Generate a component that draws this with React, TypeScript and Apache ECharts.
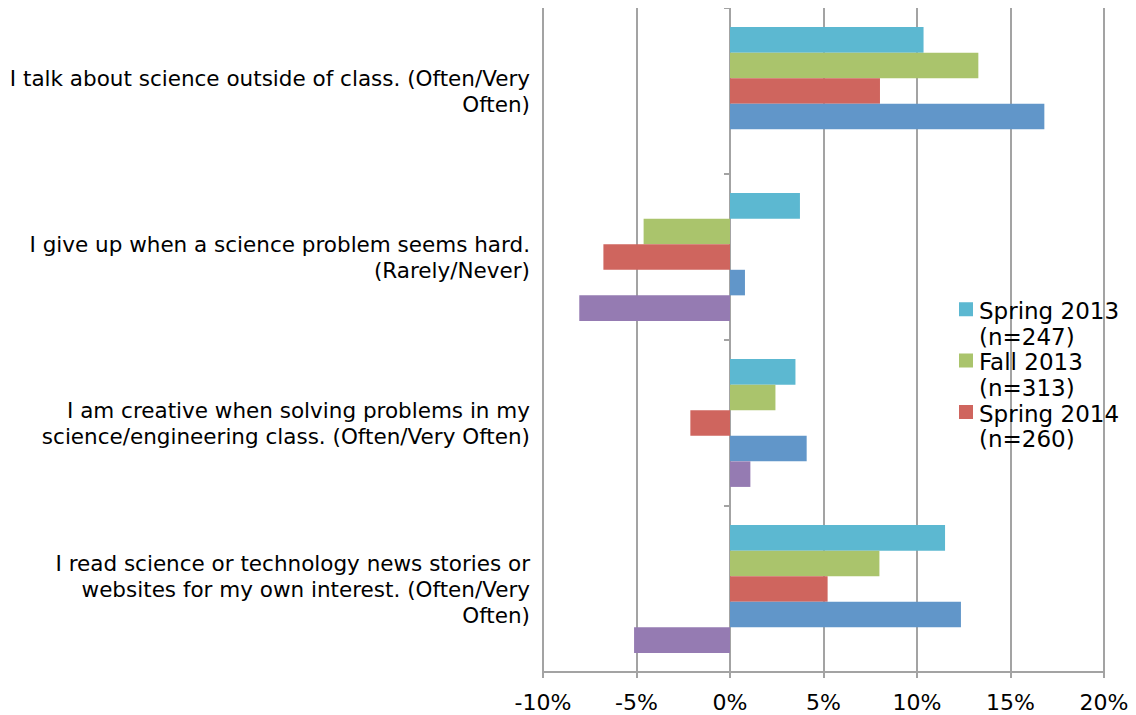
import React, { useEffect, useRef } from "react";
import * as echarts from "echarts";

const categories = [
  "I talk about science outside of class. (Often/Very\nOften)",
  "I give up when a science problem seems hard.\n(Rarely/Never)",
  "I am creative when solving problems in my\nscience/engineering class. (Often/Very Often)",
  "I read science or technology news stories or\nwebsites for my own interest. (Often/Very\nOften)",
];

const seriesNames = [
  "Spring 2013\n(n=247)",
  "Fall 2013\n(n=313)",
  "Spring 2014\n(n=260)",
  "Series 4",
  "Series 5",
];

const spring2013 = [10.35, 3.74, 3.5, 11.5];
const fall2013 = [13.28, -4.62, 2.43, 7.99];
const spring2014 = [8.02, -6.77, -2.12, 5.22];
const series4 = [16.81, 0.8, 4.1, 12.35];
const series5 = [0, -8.06, 1.09, -5.13];

const seriesValues = [spring2013, fall2013, spring2014, series4, series5];
const colors = ["#5cb8d1", "#aac46c", "#cf655e", "#6196c9", "#957bb2"];

const xMin = -10;
const xMax = 20;
const xInterval = 5;

const legendIcon =
  "path://M0,0L0.01,0M0,4L14,4L14,18L0,18ZM0,51L0.01,51";

export default function App() {
  const ref = useRef<HTMLDivElement>(null);

  useEffect(() => {
    if (!ref.current) return;
    const chart = echarts.init(ref.current, undefined, { renderer: "svg" });
    const font = "DejaVu Sans, Verdana, sans-serif";
    const gray = "#a3a3a3";
    chart.setOption({
      animation: false,
      textStyle: { fontFamily: font, color: "#000" },
      grid: { left: 543, right: 32, top: 8, bottom: 43, containLabel: false },
      legend: {
        data: seriesNames.slice(0, 3),
        orient: "vertical",
        left: 959,
        top: 298,
        icon: legendIcon,
        itemWidth: 14,
        itemHeight: 51,
        itemGap: 0,
        padding: 0,
        textStyle: {
          fontFamily: font,
          fontSize: 23,
          lineHeight: 25.7,
          color: "#000",
          padding: [0, 0, 0, 1],
        },
      },
      xAxis: {
        type: "value",
        min: xMin,
        max: xMax,
        interval: xInterval,
        axisLine: { show: true, onZero: false, lineStyle: { color: gray, width: 2 } },
        axisTick: { show: true, length: 6, lineStyle: { color: gray, width: 2 } },
        axisLabel: {
          formatter: (v: number) => v + "%",
          fontSize: 22,
          lineHeight: 22,
          color: "#000",
          fontFamily: font,
          margin: 19,
        },
        splitLine: { show: true, lineStyle: { color: gray, width: 2 } },
      },
      yAxis: [
        {
          type: "category",
          data: categories,
          inverse: true,
          position: "left",
          axisLine: { show: false, onZero: false },
          axisTick: { show: false },
          axisLabel: {
            fontSize: 21.5,
            lineHeight: 26,
            color: "#000",
            fontFamily: font,
            margin: 13,
            align: "right",
          },
        },
        {
          type: "category",
          data: categories,
          inverse: true,
          position: "right",
          axisLine: {
            show: true,
            onZero: true,
            onZeroAxisIndex: 0,
            lineStyle: { color: gray, width: 2 },
          },
          axisTick: { show: true, inside: true, length: 6, lineStyle: { color: gray, width: 2 } },
          axisLabel: { show: false },
          splitLine: { show: false },
        },
      ],
      series: seriesValues.map((vals, i) => ({
        name: seriesNames[i],
        type: "bar",
        yAxisIndex: 0,
        data: vals,
        barGap: "0%",
        barCategoryGap: "23%",
        itemStyle: { color: colors[i] },
      })),
    });
    return () => chart.dispose();
  }, []);

  return <div ref={ref} style={{ width: 1136, height: 715, marginLeft: -8, marginTop: -8 }} />;
}
